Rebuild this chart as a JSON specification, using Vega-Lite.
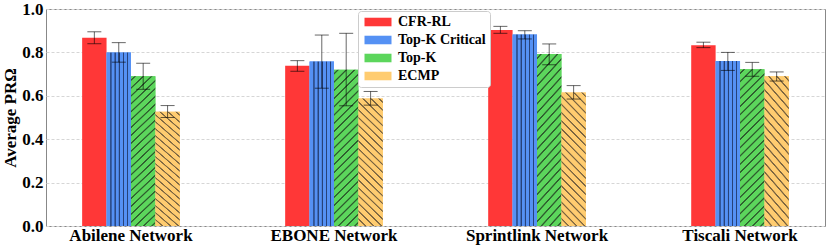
{
  "$schema": "https://vega.github.io/schema/vega-lite/v6.json",
  "autosize": "none",
  "width": 779,
  "height": 217,
  "padding": {"left": 46, "top": 9, "right": 5, "bottom": 23},
  "background": "white",
  "config": {
    "font": "Liberation Serif",
    "view": {"stroke": "#888888", "strokeWidth": 1}
  },
  "data": {
    "values": [
      {"network": "Abilene Network", "method": "CFR-RL", "value": 0.868, "lo": 0.840, "hi": 0.895},
      {"network": "Abilene Network", "method": "Top-K Critical", "value": 0.800, "lo": 0.755, "hi": 0.845},
      {"network": "Abilene Network", "method": "Top-K", "value": 0.690, "lo": 0.630, "hi": 0.750},
      {"network": "Abilene Network", "method": "ECMP", "value": 0.527, "lo": 0.500, "hi": 0.555},
      {"network": "EBONE Network", "method": "CFR-RL", "value": 0.739, "lo": 0.713, "hi": 0.762},
      {"network": "EBONE Network", "method": "Top-K Critical", "value": 0.758, "lo": 0.635, "hi": 0.880},
      {"network": "EBONE Network", "method": "Top-K", "value": 0.720, "lo": 0.554, "hi": 0.888},
      {"network": "EBONE Network", "method": "ECMP", "value": 0.588, "lo": 0.557, "hi": 0.620},
      {"network": "Sprintlink Network", "method": "CFR-RL", "value": 0.903, "lo": 0.888, "hi": 0.920},
      {"network": "Sprintlink Network", "method": "Top-K Critical", "value": 0.882, "lo": 0.862, "hi": 0.900},
      {"network": "Sprintlink Network", "method": "Top-K", "value": 0.793, "lo": 0.743, "hi": 0.839},
      {"network": "Sprintlink Network", "method": "ECMP", "value": 0.615, "lo": 0.585, "hi": 0.647},
      {"network": "Tiscali Network", "method": "CFR-RL", "value": 0.833, "lo": 0.822, "hi": 0.847},
      {"network": "Tiscali Network", "method": "Top-K Critical", "value": 0.760, "lo": 0.717, "hi": 0.800},
      {"network": "Tiscali Network", "method": "Top-K", "value": 0.722, "lo": 0.690, "hi": 0.754},
      {"network": "Tiscali Network", "method": "ECMP", "value": 0.690, "lo": 0.668, "hi": 0.710}
    ]
  },
  "encoding": {
    "x": {
      "field": "network", "type": "nominal", "sort": null,
      "scale": {"paddingInner": 0.519, "paddingOuter": 0.178},
      "axis": {"title": null, "labelAngle": 0, "labelFont": "Liberation Serif", "labelFontSize": 17, "labelFontWeight": "bold", "labelColor": "#000000", "ticks": false, "domain": false, "labelPadding": 1}
    },
    "xOffset": {
      "field": "method", "type": "nominal",
      "scale": {"domain": ["CFR-RL", "Top-K Critical", "Top-K", "ECMP"], "paddingInner": 0, "paddingOuter": 0}
    },
    "y": {
      "field": "value", "type": "quantitative",
      "scale": {"domain": [0, 1], "nice": false},
      "axis": {
        "title": "Average PRΩ", "titleFont": "Liberation Serif", "titleFontSize": 17, "titleFontWeight": "bold", "titleColor": "#000000", "titlePadding": 2,
        "values": [0, 0.2, 0.4, 0.6, 0.8, 1.0], "format": ".1f",
        "labelFont": "Liberation Serif", "labelFontSize": 17, "labelFontWeight": "bold", "labelColor": "#000000",
        "ticks": false, "domain": false, "labelPadding": 3,
        "grid": true, "gridColor": "#d6d6d6", "gridDash": [3, 2], "gridWidth": 1
      }
    }
  },
  "layer": [
    {
      "mark": {"type": "bar"},
      "encoding": {
        "fill": {
          "field": "method", "type": "nominal",
          "scale": {"domain": ["CFR-RL", "Top-K Critical", "Top-K", "ECMP"], "range": ["#ff3737", "#5591f4", "#5cd65c", "#ffcc70"]},
          "legend": {
            "title": null,
            "orient": "none",
            "legendX": 312,
            "legendY": 2,
            "fillColor": "#ffffff",
            "strokeColor": "#cccccc",
            "cornerRadius": 3,
            "padding": 4,
            "labelFont": "Liberation Serif",
            "labelFontSize": 14,
            "labelFontWeight": "bold",
            "labelColor": "#000000",
            "labelOffset": 22,
            "symbolType": "M-1,-0.95H5V0.95H-1Z",
            "symbolSize": 81,
            "symbolStrokeWidth": 0,
            "symbolOpacity": 1,
            "rowPadding": 4,
            "encode": {
              "symbols": {
                "update": {
                  "fill": [
                    {"test": "datum.value === 'Top-K Critical'", "value": {"gradient": "linear", "x1": 0, "y1": 0, "x2": 1, "y2": 0, "stops": [
                      {"offset": 0, "color": "#5591f4"},
                      {"offset": 0.072, "color": "#5591f4"}, {"offset": 0.088, "color": "#26427a"}, {"offset": 0.112, "color": "#26427a"}, {"offset": 0.128, "color": "#5591f4"},
                      {"offset": 0.227, "color": "#5591f4"}, {"offset": 0.243, "color": "#26427a"}, {"offset": 0.267, "color": "#26427a"}, {"offset": 0.283, "color": "#5591f4"},
                      {"offset": 0.382, "color": "#5591f4"}, {"offset": 0.398, "color": "#26427a"}, {"offset": 0.422, "color": "#26427a"}, {"offset": 0.438, "color": "#5591f4"},
                      {"offset": 0.537, "color": "#5591f4"}, {"offset": 0.553, "color": "#26427a"}, {"offset": 0.577, "color": "#26427a"}, {"offset": 0.593, "color": "#5591f4"},
                      {"offset": 0.692, "color": "#5591f4"}, {"offset": 0.708, "color": "#26427a"}, {"offset": 0.732, "color": "#26427a"}, {"offset": 0.748, "color": "#5591f4"},
                      {"offset": 0.847, "color": "#5591f4"}, {"offset": 0.863, "color": "#26427a"}, {"offset": 0.887, "color": "#26427a"}, {"offset": 0.903, "color": "#5591f4"},
                      {"offset": 1, "color": "#5591f4"}
                    ]}},
                    {"test": "datum.value === 'Top-K'", "value": {"gradient": "linear", "x1": 0, "y1": 0, "x2": 1, "y2": 0.315, "stops": [
                      {"offset": 0, "color": "#5cd65c"},
                      {"offset": 0.075, "color": "#5cd65c"}, {"offset": 0.103, "color": "#2e5e2e"}, {"offset": 0.137, "color": "#2e5e2e"}, {"offset": 0.165, "color": "#5cd65c"},
                      {"offset": 0.345, "color": "#5cd65c"}, {"offset": 0.373, "color": "#2e5e2e"}, {"offset": 0.407, "color": "#2e5e2e"}, {"offset": 0.435, "color": "#5cd65c"},
                      {"offset": 0.615, "color": "#5cd65c"}, {"offset": 0.643, "color": "#2e5e2e"}, {"offset": 0.677, "color": "#2e5e2e"}, {"offset": 0.705, "color": "#5cd65c"},
                      {"offset": 0.885, "color": "#5cd65c"}, {"offset": 0.913, "color": "#2e5e2e"}, {"offset": 0.947, "color": "#2e5e2e"}, {"offset": 0.975, "color": "#5cd65c"},
                      {"offset": 1, "color": "#5cd65c"}
                    ]}},
                    {"test": "datum.value === 'ECMP'", "value": {"gradient": "linear", "x1": 1, "y1": 0, "x2": 0, "y2": 0.315, "stops": [
                      {"offset": 0, "color": "#ffcc70"},
                      {"offset": 0.075, "color": "#ffcc70"}, {"offset": 0.103, "color": "#7a6440"}, {"offset": 0.137, "color": "#7a6440"}, {"offset": 0.165, "color": "#ffcc70"},
                      {"offset": 0.345, "color": "#ffcc70"}, {"offset": 0.373, "color": "#7a6440"}, {"offset": 0.407, "color": "#7a6440"}, {"offset": 0.435, "color": "#ffcc70"},
                      {"offset": 0.615, "color": "#ffcc70"}, {"offset": 0.643, "color": "#7a6440"}, {"offset": 0.677, "color": "#7a6440"}, {"offset": 0.705, "color": "#ffcc70"},
                      {"offset": 0.885, "color": "#ffcc70"}, {"offset": 0.913, "color": "#7a6440"}, {"offset": 0.947, "color": "#7a6440"}, {"offset": 0.975, "color": "#ffcc70"},
                      {"offset": 1, "color": "#ffcc70"}
                    ]}},
                    {"value": "#ff3737"}
                  ]
                }
              }
            }
          }
        }
      }
    },
    {
      "transform": [{"filter": "datum.method === 'Top-K Critical'"}],
      "mark": {"type": "bar", "fill": {"gradient": "linear", "x1": 0, "y1": 0, "x2": 1, "y2": 0, "stops": [
        {"offset": 0, "color": "#5591f4"},
        {"offset": 0.145, "color": "#5591f4"}, {"offset": 0.165, "color": "#26427a"}, {"offset": 0.195, "color": "#26427a"}, {"offset": 0.215, "color": "#5591f4"},
        {"offset": 0.315, "color": "#5591f4"}, {"offset": 0.335, "color": "#26427a"}, {"offset": 0.365, "color": "#26427a"}, {"offset": 0.385, "color": "#5591f4"},
        {"offset": 0.485, "color": "#5591f4"}, {"offset": 0.505, "color": "#26427a"}, {"offset": 0.535, "color": "#26427a"}, {"offset": 0.555, "color": "#5591f4"},
        {"offset": 0.655, "color": "#5591f4"}, {"offset": 0.675, "color": "#26427a"}, {"offset": 0.705, "color": "#26427a"}, {"offset": 0.725, "color": "#5591f4"},
        {"offset": 0.825, "color": "#5591f4"}, {"offset": 0.845, "color": "#26427a"}, {"offset": 0.875, "color": "#26427a"}, {"offset": 0.895, "color": "#5591f4"},
        {"offset": 1, "color": "#5591f4"}
      ]}}
    },
    {
      "transform": [{"filter": "datum.method === 'Top-K'"}],
      "mark": {"type": "bar", "fill": {"gradient": "linear", "x1": 0, "y1": 0, "x2": 1, "y2": 6.43, "stops": [
        {"offset": 0, "color": "#5cd65c"},
        {"offset": 0.0027, "color": "#5cd65c"}, {"offset": 0.0035, "color": "#2e5e2e"}, {"offset": 0.0045, "color": "#2e5e2e"}, {"offset": 0.0053, "color": "#5cd65c"},
        {"offset": 0.0107, "color": "#5cd65c"}, {"offset": 0.0115, "color": "#2e5e2e"}, {"offset": 0.0125, "color": "#2e5e2e"}, {"offset": 0.0133, "color": "#5cd65c"},
        {"offset": 0.0187, "color": "#5cd65c"}, {"offset": 0.0195, "color": "#2e5e2e"}, {"offset": 0.0205, "color": "#2e5e2e"}, {"offset": 0.0213, "color": "#5cd65c"},
        {"offset": 0.0267, "color": "#5cd65c"}, {"offset": 0.0275, "color": "#2e5e2e"}, {"offset": 0.0285, "color": "#2e5e2e"}, {"offset": 0.0293, "color": "#5cd65c"},
        {"offset": 0.0347, "color": "#5cd65c"}, {"offset": 0.0355, "color": "#2e5e2e"}, {"offset": 0.0365, "color": "#2e5e2e"}, {"offset": 0.0373, "color": "#5cd65c"},
        {"offset": 0.0427, "color": "#5cd65c"}, {"offset": 0.0435, "color": "#2e5e2e"}, {"offset": 0.0445, "color": "#2e5e2e"}, {"offset": 0.0453, "color": "#5cd65c"},
        {"offset": 0.0507, "color": "#5cd65c"}, {"offset": 0.0515, "color": "#2e5e2e"}, {"offset": 0.0525, "color": "#2e5e2e"}, {"offset": 0.0533, "color": "#5cd65c"},
        {"offset": 0.0587, "color": "#5cd65c"}, {"offset": 0.0595, "color": "#2e5e2e"}, {"offset": 0.0605, "color": "#2e5e2e"}, {"offset": 0.0613, "color": "#5cd65c"},
        {"offset": 0.0667, "color": "#5cd65c"}, {"offset": 0.0675, "color": "#2e5e2e"}, {"offset": 0.0685, "color": "#2e5e2e"}, {"offset": 0.0693, "color": "#5cd65c"},
        {"offset": 0.0747, "color": "#5cd65c"}, {"offset": 0.0755, "color": "#2e5e2e"}, {"offset": 0.0765, "color": "#2e5e2e"}, {"offset": 0.0773, "color": "#5cd65c"},
        {"offset": 0.0827, "color": "#5cd65c"}, {"offset": 0.0835, "color": "#2e5e2e"}, {"offset": 0.0845, "color": "#2e5e2e"}, {"offset": 0.0853, "color": "#5cd65c"},
        {"offset": 0.0907, "color": "#5cd65c"}, {"offset": 0.0915, "color": "#2e5e2e"}, {"offset": 0.0925, "color": "#2e5e2e"}, {"offset": 0.0933, "color": "#5cd65c"},
        {"offset": 0.0987, "color": "#5cd65c"}, {"offset": 0.0995, "color": "#2e5e2e"}, {"offset": 0.1005, "color": "#2e5e2e"}, {"offset": 0.1013, "color": "#5cd65c"},
        {"offset": 0.1067, "color": "#5cd65c"}, {"offset": 0.1075, "color": "#2e5e2e"}, {"offset": 0.1085, "color": "#2e5e2e"}, {"offset": 0.1093, "color": "#5cd65c"},
        {"offset": 0.1147, "color": "#5cd65c"}, {"offset": 0.1155, "color": "#2e5e2e"}, {"offset": 0.1165, "color": "#2e5e2e"}, {"offset": 0.1173, "color": "#5cd65c"},
        {"offset": 0.1227, "color": "#5cd65c"}, {"offset": 0.1235, "color": "#2e5e2e"}, {"offset": 0.1245, "color": "#2e5e2e"}, {"offset": 0.1253, "color": "#5cd65c"},
        {"offset": 0.1307, "color": "#5cd65c"}, {"offset": 0.1315, "color": "#2e5e2e"}, {"offset": 0.1325, "color": "#2e5e2e"}, {"offset": 0.1333, "color": "#5cd65c"},
        {"offset": 0.1387, "color": "#5cd65c"}, {"offset": 0.1395, "color": "#2e5e2e"}, {"offset": 0.1405, "color": "#2e5e2e"}, {"offset": 0.1413, "color": "#5cd65c"},
        {"offset": 0.1467, "color": "#5cd65c"}, {"offset": 0.1475, "color": "#2e5e2e"}, {"offset": 0.1485, "color": "#2e5e2e"}, {"offset": 0.1493, "color": "#5cd65c"},
        {"offset": 0.1547, "color": "#5cd65c"}, {"offset": 0.1555, "color": "#2e5e2e"}, {"offset": 0.1565, "color": "#2e5e2e"}, {"offset": 0.1573, "color": "#5cd65c"},
        {"offset": 0.1627, "color": "#5cd65c"}, {"offset": 0.1635, "color": "#2e5e2e"}, {"offset": 0.1645, "color": "#2e5e2e"}, {"offset": 0.1653, "color": "#5cd65c"},
        {"offset": 0.1707, "color": "#5cd65c"}, {"offset": 0.1715, "color": "#2e5e2e"}, {"offset": 0.1725, "color": "#2e5e2e"}, {"offset": 0.1733, "color": "#5cd65c"},
        {"offset": 0.1787, "color": "#5cd65c"}, {"offset": 0.1795, "color": "#2e5e2e"}, {"offset": 0.1805, "color": "#2e5e2e"}, {"offset": 0.1813, "color": "#5cd65c"},
        {"offset": 0.1867, "color": "#5cd65c"}, {"offset": 0.1875, "color": "#2e5e2e"}, {"offset": 0.1885, "color": "#2e5e2e"}, {"offset": 0.1893, "color": "#5cd65c"},
        {"offset": 0.1947, "color": "#5cd65c"}, {"offset": 0.1955, "color": "#2e5e2e"}, {"offset": 0.1965, "color": "#2e5e2e"}, {"offset": 0.1973, "color": "#5cd65c"},
        {"offset": 1, "color": "#5cd65c"}
      ]}}
    },
    {
      "transform": [{"filter": "datum.method === 'ECMP'"}],
      "mark": {"type": "bar", "fill": {"gradient": "linear", "x1": 1, "y1": 0, "x2": 0, "y2": 5.37, "stops": [
        {"offset": 0, "color": "#ffcc70"},
        {"offset": 0.0038, "color": "#ffcc70"}, {"offset": 0.0048, "color": "#7a6440"}, {"offset": 0.0062, "color": "#7a6440"}, {"offset": 0.0072, "color": "#ffcc70"},
        {"offset": 0.0148, "color": "#ffcc70"}, {"offset": 0.0158, "color": "#7a6440"}, {"offset": 0.0172, "color": "#7a6440"}, {"offset": 0.0182, "color": "#ffcc70"},
        {"offset": 0.0258, "color": "#ffcc70"}, {"offset": 0.0268, "color": "#7a6440"}, {"offset": 0.0282, "color": "#7a6440"}, {"offset": 0.0292, "color": "#ffcc70"},
        {"offset": 0.0368, "color": "#ffcc70"}, {"offset": 0.0378, "color": "#7a6440"}, {"offset": 0.0392, "color": "#7a6440"}, {"offset": 0.0402, "color": "#ffcc70"},
        {"offset": 0.0478, "color": "#ffcc70"}, {"offset": 0.0488, "color": "#7a6440"}, {"offset": 0.0502, "color": "#7a6440"}, {"offset": 0.0512, "color": "#ffcc70"},
        {"offset": 0.0588, "color": "#ffcc70"}, {"offset": 0.0598, "color": "#7a6440"}, {"offset": 0.0612, "color": "#7a6440"}, {"offset": 0.0622, "color": "#ffcc70"},
        {"offset": 0.0698, "color": "#ffcc70"}, {"offset": 0.0708, "color": "#7a6440"}, {"offset": 0.0722, "color": "#7a6440"}, {"offset": 0.0732, "color": "#ffcc70"},
        {"offset": 0.0808, "color": "#ffcc70"}, {"offset": 0.0818, "color": "#7a6440"}, {"offset": 0.0832, "color": "#7a6440"}, {"offset": 0.0842, "color": "#ffcc70"},
        {"offset": 0.0918, "color": "#ffcc70"}, {"offset": 0.0928, "color": "#7a6440"}, {"offset": 0.0942, "color": "#7a6440"}, {"offset": 0.0952, "color": "#ffcc70"},
        {"offset": 0.1028, "color": "#ffcc70"}, {"offset": 0.1038, "color": "#7a6440"}, {"offset": 0.1052, "color": "#7a6440"}, {"offset": 0.1062, "color": "#ffcc70"},
        {"offset": 0.1138, "color": "#ffcc70"}, {"offset": 0.1148, "color": "#7a6440"}, {"offset": 0.1162, "color": "#7a6440"}, {"offset": 0.1172, "color": "#ffcc70"},
        {"offset": 0.1248, "color": "#ffcc70"}, {"offset": 0.1258, "color": "#7a6440"}, {"offset": 0.1272, "color": "#7a6440"}, {"offset": 0.1282, "color": "#ffcc70"},
        {"offset": 0.1358, "color": "#ffcc70"}, {"offset": 0.1368, "color": "#7a6440"}, {"offset": 0.1382, "color": "#7a6440"}, {"offset": 0.1392, "color": "#ffcc70"},
        {"offset": 0.1468, "color": "#ffcc70"}, {"offset": 0.1478, "color": "#7a6440"}, {"offset": 0.1492, "color": "#7a6440"}, {"offset": 0.1502, "color": "#ffcc70"},
        {"offset": 0.1578, "color": "#ffcc70"}, {"offset": 0.1588, "color": "#7a6440"}, {"offset": 0.1602, "color": "#7a6440"}, {"offset": 0.1612, "color": "#ffcc70"},
        {"offset": 0.1688, "color": "#ffcc70"}, {"offset": 0.1698, "color": "#7a6440"}, {"offset": 0.1712, "color": "#7a6440"}, {"offset": 0.1722, "color": "#ffcc70"},
        {"offset": 0.1798, "color": "#ffcc70"}, {"offset": 0.1808, "color": "#7a6440"}, {"offset": 0.1822, "color": "#7a6440"}, {"offset": 0.1832, "color": "#ffcc70"},
        {"offset": 0.1908, "color": "#ffcc70"}, {"offset": 0.1918, "color": "#7a6440"}, {"offset": 0.1932, "color": "#7a6440"}, {"offset": 0.1942, "color": "#ffcc70"},
        {"offset": 0.2018, "color": "#ffcc70"}, {"offset": 0.2028, "color": "#7a6440"}, {"offset": 0.2042, "color": "#7a6440"}, {"offset": 0.2052, "color": "#ffcc70"},
        {"offset": 0.2128, "color": "#ffcc70"}, {"offset": 0.2138, "color": "#7a6440"}, {"offset": 0.2152, "color": "#7a6440"}, {"offset": 0.2162, "color": "#ffcc70"},
        {"offset": 0.2238, "color": "#ffcc70"}, {"offset": 0.2248, "color": "#7a6440"}, {"offset": 0.2262, "color": "#7a6440"}, {"offset": 0.2272, "color": "#ffcc70"},
        {"offset": 1, "color": "#ffcc70"}
      ]}}
    },
    {
      "mark": {"type": "rule", "color": "#000000", "opacity": 0.6, "strokeWidth": 1},
      "encoding": {
        "y": {"field": "lo", "type": "quantitative"},
        "y2": {"field": "hi"}
      }
    },
    {
      "mark": {"type": "tick", "color": "#000000", "opacity": 0.6, "size": 14, "thickness": 1},
      "encoding": {
        "y": {"field": "lo", "type": "quantitative"}
      }
    },
    {
      "mark": {"type": "tick", "color": "#000000", "opacity": 0.6, "size": 14, "thickness": 1},
      "encoding": {
        "y": {"field": "hi", "type": "quantitative"}
      }
    }
  ]
}
